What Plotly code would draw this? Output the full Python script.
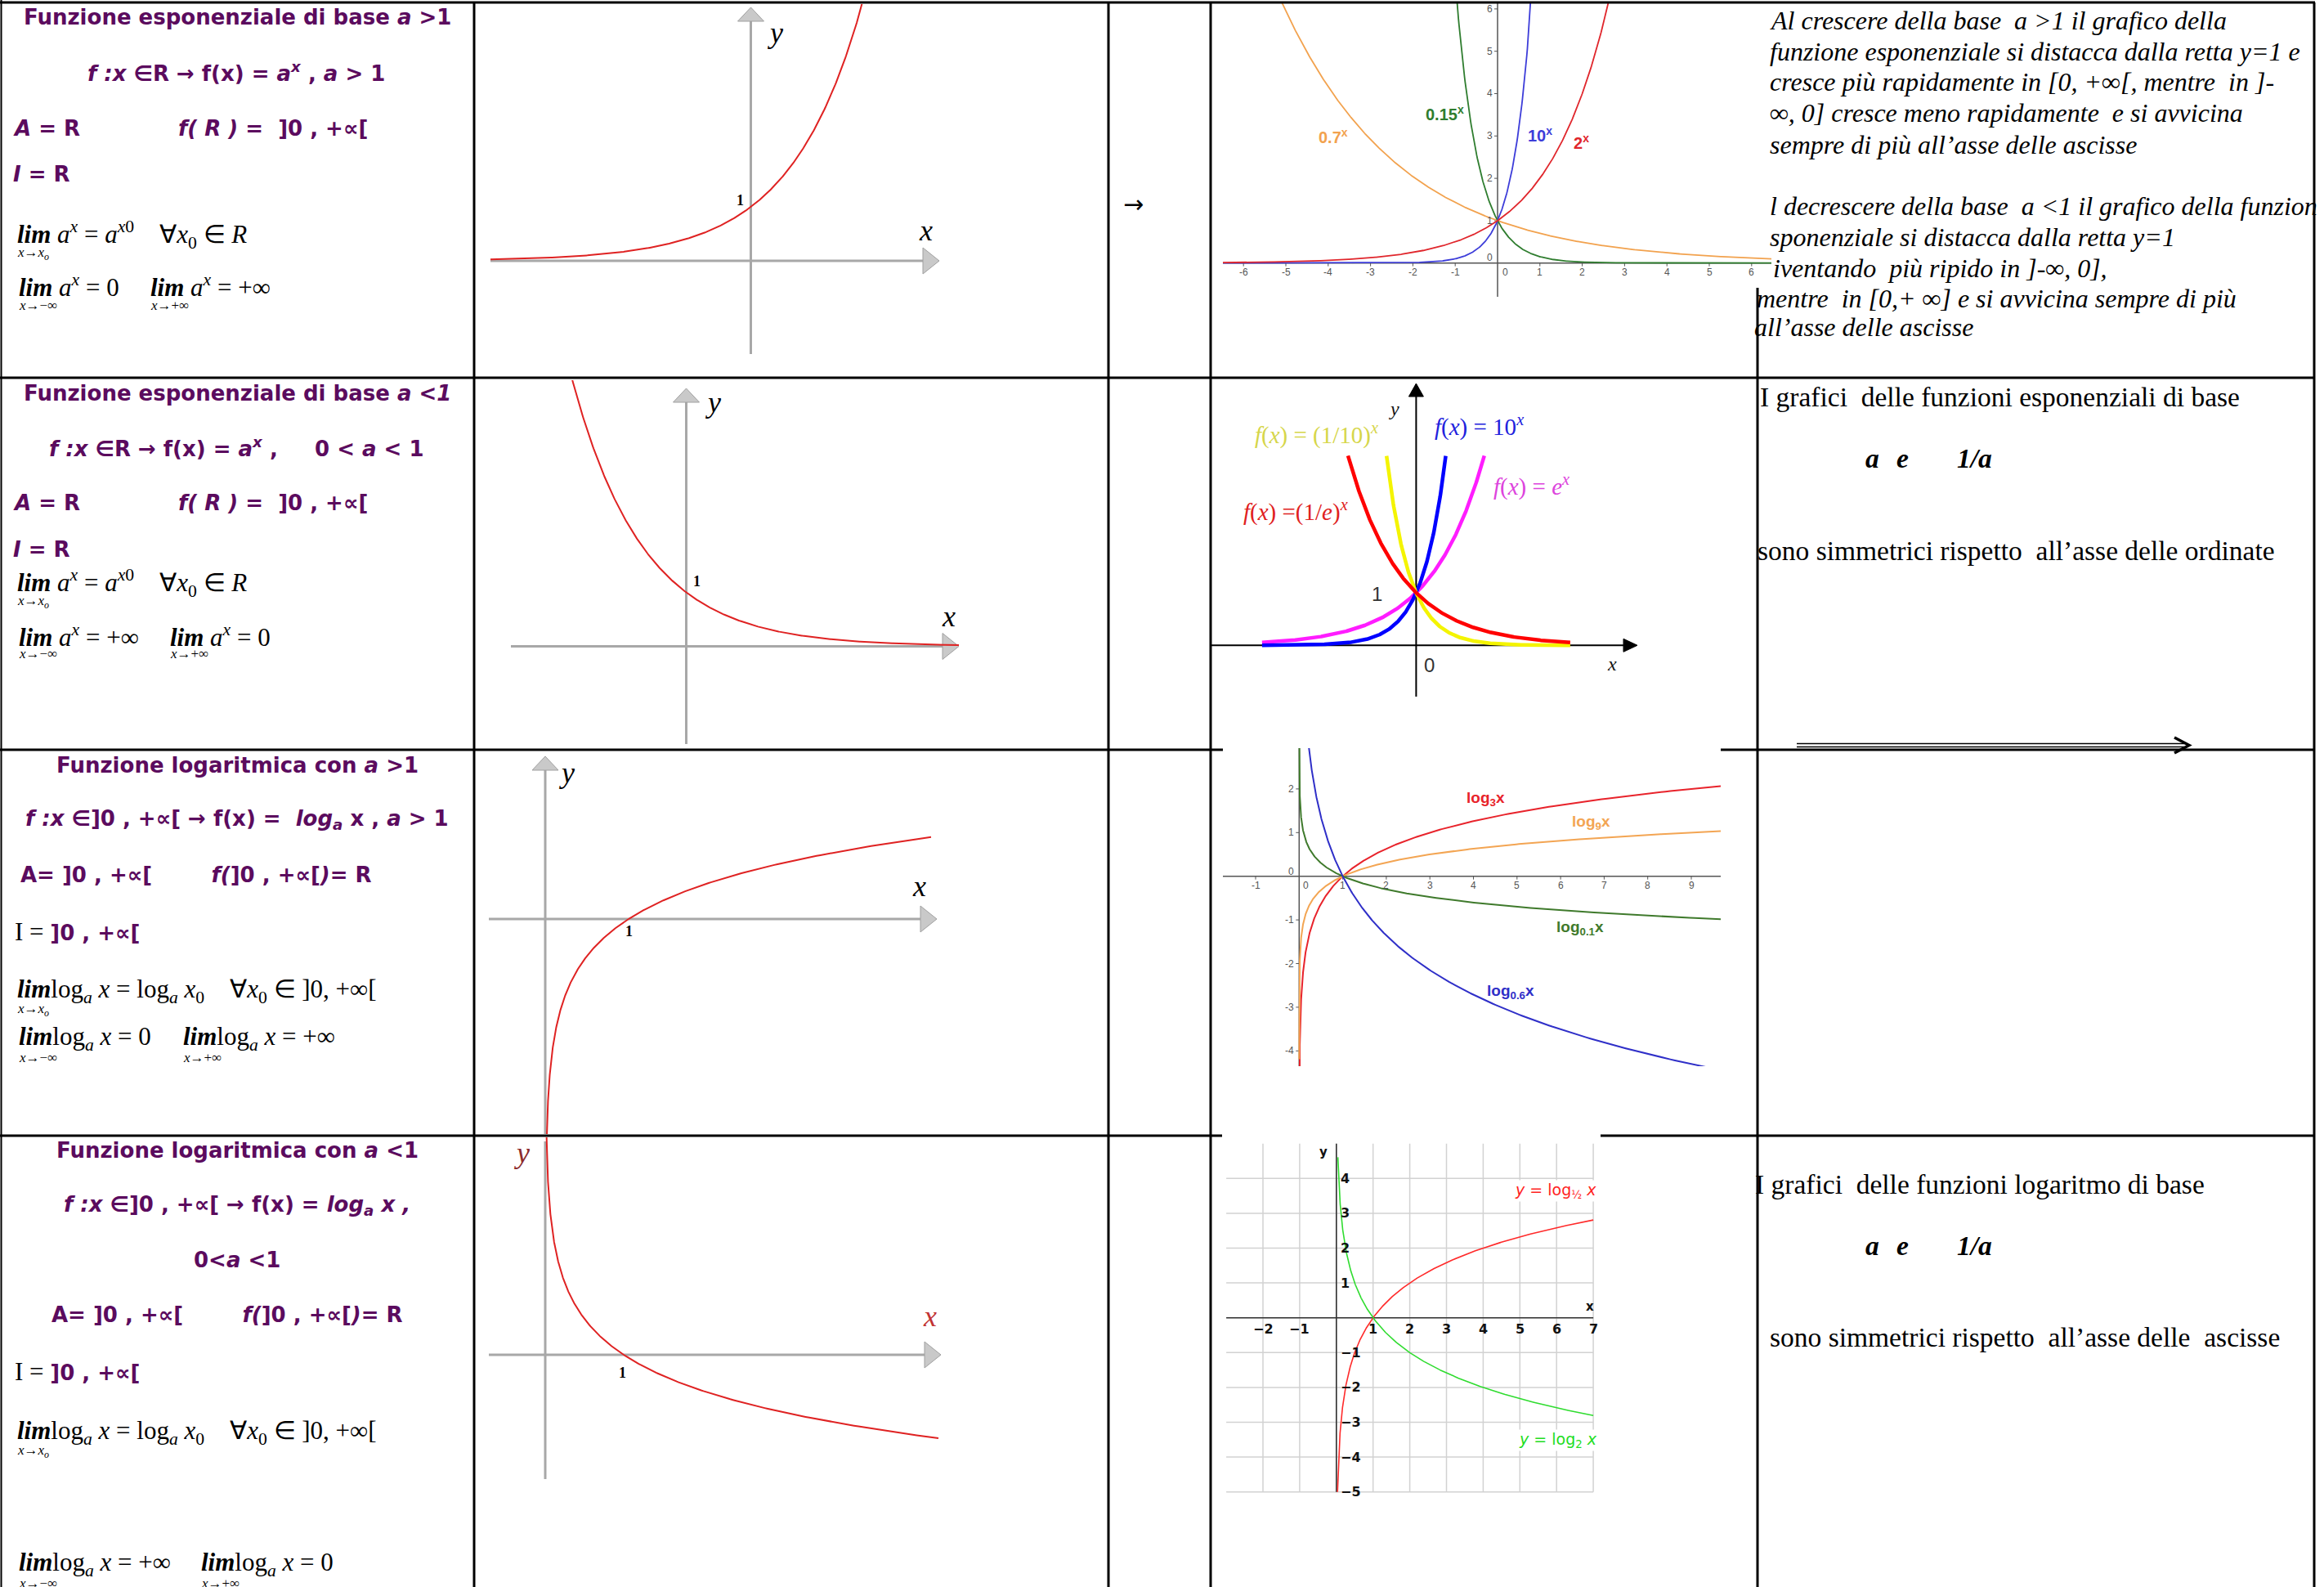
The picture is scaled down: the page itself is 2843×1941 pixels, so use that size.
import numpy as np
import plotly.graph_objects as go

W, H = 2843, 1941

# ---------------- data ----------------
# schematic curves of the second column
schema_exp_bases = [2.0, 0.5]            # a > 1 , 0 < a < 1
schema_log_bases = [np.e, 1 / np.e]      # a > 1 , 0 < a < 1

# family of exponentials (row 1)
exp_family_bases = [0.7, 0.15, 10.0, 2.0]
exp_family_names = ["0.7", "0.15", "10", "2"]
exp_family_colors = ["#f2a24e", "#2f7d2f", "#3d3dd9", "#e0262c"]
exp_family_xticks = [-6, -5, -4, -3, -2, -1, 1, 2, 3, 4, 5, 6]
exp_family_yticks = [1, 2, 3, 4, 5, 6]

# a^x and (1/a)^x (row 2)
sym_bases = [np.e, 10.0, 0.1, 1 / np.e]
sym_colors = ["#ff1cff", "#0000ff", "#f4f400", "#ff0000"]
sym_xlim = 2.9
sym_ytop = 3.62

# family of logarithms (row 3)
log_family_bases = [3.0, 9.0, 0.1, 0.6]
log_family_colors = ["#e8232b", "#f3a553", "#3f7a2c", "#2f2fc8"]
log_family_xticks = [-1, 1, 2, 3, 4, 5, 6, 7, 8, 9]
log_family_yticks = [-4, -3, -2, -1, 1, 2]

# log base 2 and base 1/2 on a grid (row 4)
grid_log_bases = [2.0, 0.5]
grid_log_colors = ["#ff2a2a", "#2fdc2f"]
grid_log_xstart = [1 / 32, 0.041]
grid_xticks = [-2, -1, 1, 2, 3, 4, 5, 6, 7]
grid_yticks = [-5, -4, -3, -2, -1, 1, 2, 3, 4]

# ---------------- helpers ----------------
fig = go.Figure()
shapes, annotations, axes = [], [], {}

PUR = "#5b0b5e"
SANS = "DejaVu Sans"
SERIF = "Liberation Serif"
NARROW = "Liberation Sans Narrow, Liberation Sans"
NB = "\u00a0"


def P(xp):
    return xp / W


def Q(yp):
    return 1 - yp / H


def panel(n, ox, oy, sx, sy, box):
    l, t, r, b = box
    s = "" if n == 1 else str(n)
    axes["xaxis" + s] = dict(domain=[P(l), P(r)], range=[(l - ox) / sx, (r - ox) / sx],
                             visible=False, fixedrange=True, anchor="y" + s)
    axes["yaxis" + s] = dict(domain=[Q(b), Q(t)], range=[(oy - b) / sy, (oy - t) / sy],
                             visible=False, fixedrange=True, anchor="x" + s)
    return dict(x="x" + s, y="y" + s, sx=sx, sy=sy, ox=ox, oy=oy)


def X(p, xp):
    return (xp - p["ox"]) / p["sx"]


def Y(p, yp):
    return (p["oy"] - yp) / p["sy"]


def dline(p, x0, y0, x1, y1, color, width, layer="below"):
    shapes.append(dict(type="line", xref=p["x"], yref=p["y"], x0=x0, y0=y0, x1=x1, y1=y1,
                       line=dict(color=color, width=width), layer=layer))


def dpath(p, pts, fill, edge, ew=1.0):
    path = "M " + " L ".join(f"{a:.5f},{b:.5f}" for a, b in pts) + " Z"
    shapes.append(dict(type="path", xref=p["x"], yref=p["y"], path=path,
                       fillcolor=fill, line=dict(color=edge, width=ew), layer="below"))


def head_up(p, tip_y, length, half, fill, edge):
    dpath(p, [(0, tip_y), (-half / p["sx"], tip_y - length / p["sy"]),
              (half / p["sx"], tip_y - length / p["sy"])], fill, edge)


def head_right(p, tip_x, length, half, fill, edge):
    dpath(p, [(tip_x, 0), (tip_x - length / p["sx"], half / p["sy"]),
              (tip_x - length / p["sx"], -half / p["sy"])], fill, edge)


def curve(p, x, y, color, width):
    fig.add_trace(go.Scatter(x=x, y=y, mode="lines", line=dict(color=color, width=width),
                             xaxis=p["x"], yaxis=p["y"], hoverinfo="skip", showlegend=False))


def label(xp, yp, s, size, color="#000", family=SERIF, xa="left", ya="middle", bg=None):
    a = dict(x=P(xp), y=Q(yp), xref="paper", yref="paper", text=s, showarrow=False,
             xanchor=xa, yanchor=ya, borderpad=0,
             font=dict(size=size, color=color, family=family))
    if bg:
        a["bgcolor"] = bg
    annotations.append(a)


def dlabel(p, x, y, s, size, color, family, xa="center", ya="middle"):
    annotations.append(dict(x=x, y=y, xref=p["x"], yref=p["y"], text=s, showarrow=False,
                            xanchor=xa, yanchor=ya, borderpad=0,
                            font=dict(size=size, color=color, family=family)))


def hline(y, x0, x1, w=3):
    shapes.append(dict(type="line", xref="paper", yref="paper", x0=P(x0), x1=P(x1),
                       y0=Q(y), y1=Q(y), line=dict(color="#000", width=w), layer="above"))


def vline(x, y0, y1, w=3):
    shapes.append(dict(type="line", xref="paper", yref="paper", x0=P(x), x1=P(x),
                       y0=Q(y0), y1=Q(y1), line=dict(color="#000", width=w), layer="above"))


GRAY_AX = "#a8a8a8"
HEAD_FILL = "#c9c9c9"
HEAD_EDGE = "#a0a0a0"
SCHEMA_RED = "#df2222"

# ---------------- column 2 : schematic graphs ----------------
# a^x, a > 1
pA = panel(1, 918.5, 319, 60.5, 66, (585, 5, 1352, 458))
dline(pA, X(pA, 600), 0, X(pA, 1135), 0, GRAY_AX, 3)
dline(pA, 0, Y(pA, 433), 0, Y(pA, 22), GRAY_AX, 3)
head_up(pA, Y(pA, 9), 17, 16, HEAD_FILL, HEAD_EDGE)
head_right(pA, X(pA, 1149), 20, 16, HEAD_FILL, HEAD_EDGE)
xa = np.linspace(X(pA, 600), 2.5, 500)
curve(pA, xa, schema_exp_bases[0] ** xa, SCHEMA_RED, 2)
label(900, 245, "<b>1</b>", 18)
label(948, 40, "<i>y</i>", 36, xa="center")
label(1132, 282, "<i>x</i>", 36, xa="center")

# a^x, 0 < a < 1
pC = panel(2, 839.5, 790.5, 60.5, 66, (585, 465, 1352, 915))
dline(pC, X(pC, 625), 0, X(pC, 1158), 0, GRAY_AX, 3)
dline(pC, 0, Y(pC, 910), 0, Y(pC, 488), GRAY_AX, 3)
head_up(pC, Y(pC, 475), 17, 16, HEAD_FILL, HEAD_EDGE)
head_right(pC, X(pC, 1173), 20, 16, HEAD_FILL, HEAD_EDGE)
xc = np.linspace(-2.5, X(pC, 1173), 500)
curve(pC, xc, schema_exp_bases[1] ** xc, SCHEMA_RED, 2)
label(852, 711, "<b>1</b>", 18, xa="center")
label(872, 492, "<i>y</i>", 36, xa="center")
label(1160, 754, "<i>x</i>", 36, xa="center")

# log_a x, a > 1
pE = panel(3, 667, 1124, 102, 65.4, (585, 919, 1352, 1387))
dline(pE, X(pE, 598), 0, X(pE, 1132), 0, GRAY_AX, 3)
dline(pE, 0, Y(pE, 1387), 0, Y(pE, 940), GRAY_AX, 3)
head_up(pE, Y(pE, 925), 17, 16, HEAD_FILL, HEAD_EDGE)
head_right(pE, X(pE, 1146), 20, 16, HEAD_FILL, HEAD_EDGE)
xe = np.geomspace(1e-3, X(pE, 1139), 600)
curve(pE, xe, np.log(xe) / np.log(schema_log_bases[0]), SCHEMA_RED, 2)
label(769, 1139, "<b>1</b>", 18, xa="center")
label(693, 945, "<i>y</i>", 36, xa="center")
label(1124, 1084, "<i>x</i>", 36, xa="center")

# log_a x, 0 < a < 1
pF = panel(4, 667, 1657, 96, 63.3, (585, 1391, 1352, 1939))
dline(pF, X(pF, 598), 0, X(pF, 1137), 0, GRAY_AX, 3)
dline(pF, 0, Y(pF, 1809), 0, Y(pF, 1396), GRAY_AX, 3)
head_right(pF, X(pF, 1151), 20, 16, HEAD_FILL, HEAD_EDGE)
xf = np.geomspace(1e-3, X(pF, 1148), 600)
curve(pF, xf, np.log(xf) / np.log(schema_log_bases[1]), SCHEMA_RED, 2)
label(761.5, 1679, "<b>1</b>", 18, xa="center")
label(638, 1410, "<i>y</i>", 36, color="#8c2b2b", xa="center")
label(1137, 1610, "<i>x</i>", 36, color="#c23434", xa="center")

# ---------------- column 4 : comparison graphs ----------------
# exponentials with different bases
pB = panel(5, 1832, 321.7, 51.8, 51.8, (1496, 4, 2167, 363))
AX_G = "#555555"
dline(pB, X(pB, 1496), 0, X(pB, 2167), 0, AX_G, 1.5)
dline(pB, 0, Y(pB, 363), 0, Y(pB, 4), AX_G, 1.5)
for k in exp_family_xticks:
    dline(pB, k, 0, k, -4 / pB["sy"], AX_G, 1)
    dlabel(pB, k, Y(pB, 333), str(k), 12, "#555", "Liberation Sans")
for k in exp_family_yticks:
    dline(pB, -4 / pB["sx"], k, 0, k, AX_G, 1)
    dlabel(pB, X(pB, 1827), k, str(k), 12, "#555", "Liberation Sans", xa="right")
dlabel(pB, X(pB, 1841), Y(pB, 333), "0", 12, "#555", "Liberation Sans")
dlabel(pB, X(pB, 1827), Y(pB, 315), "0", 12, "#555", "Liberation Sans", xa="right")
xb = np.linspace(X(pB, 1496), X(pB, 2167), 900)
for b, c in zip(exp_family_bases, exp_family_colors):
    curve(pB, xb, b ** xb, c, 1.8)
for name, c, (lx, ly) in zip(exp_family_names, exp_family_colors,
                             [(1612, 167), (1743, 138), (1868, 165), (1924, 173)]):
    label(lx, ly, f"<b>{name}<sup>x</sup></b>", 20, c, NARROW)

# a^x and (1/a)^x
pD = panel(6, 1732.4, 789.3, 65, 64.3, (1482, 464, 2012, 915))
dline(pD, X(pD, 1482), 0, X(pD, 1990), 0, "#000", 2)
dline(pD, 0, Y(pD, 852), 0, Y(pD, 482), "#000", 2)
head_up(pD, Y(pD, 469), 16, 9, "#000", "#000")
head_right(pD, X(pD, 2003), 17, 8, "#000", "#000")
xd = np.linspace(-sym_xlim, sym_xlim, 600)
for b, c in zip(sym_bases, sym_colors):
    yd = b ** xd
    curve(pD, xd, np.where(yd > sym_ytop, np.nan, yd), c, 4.5)
DS = 29
label(1534, 530, "<i>f</i>(<i>x</i>) = (1/10)<sup><i>x</i></sup>", DS, "#d6d64a")
label(1754, 521, "<i>f</i>(<i>x</i>) = 10<sup><i>x</i></sup>", DS, "#2222dd")
label(1826, 593, "<i>f</i>(<i>x</i>) = <i>e</i><sup><i>x</i></sup>", DS, "#dd44dd")
label(1520, 625, "<i>f</i>(<i>x</i>) =(1/<i>e</i>)<sup><i>x</i></sup>", DS, "#e02020")
label(1684, 727, "1", 24, "#333", "Liberation Sans", xa="center")
label(1748, 813, "0", 24, "#333", "Liberation Sans", xa="center")
label(1706, 500, "<i>y</i>", 24, "#111", xa="center")
label(1972, 812, "<i>x</i>", 24, "#111", xa="center")

# logarithms with different bases
pG = panel(7, 1589.3, 1071.7, 53.3, 53.4, (1496, 915, 2105, 1304))
dline(pG, X(pG, 1496), 0, X(pG, 2105), 0, AX_G, 1.5)
dline(pG, 0, Y(pG, 1304), 0, Y(pG, 915), AX_G, 1.5)
for k in log_family_xticks:
    dline(pG, k, 0, k, -4 / pG["sy"], AX_G, 1)
    dlabel(pG, k, Y(pG, 1083), str(k), 12, "#555", "Liberation Sans")
for k in log_family_yticks:
    dline(pG, -4 / pG["sx"], k, 0, k, AX_G, 1)
    dlabel(pG, X(pG, 1584), k, str(k), 12, "#555", "Liberation Sans", xa="right")
dlabel(pG, X(pG, 1597), Y(pG, 1083), "0", 12, "#555", "Liberation Sans")
dlabel(pG, X(pG, 1584), Y(pG, 1066), "0", 12, "#555", "Liberation Sans", xa="right")
xg = np.geomspace(1e-4, X(pG, 2105), 900)
for b, c in zip(log_family_bases, log_family_colors):
    curve(pG, xg, np.log(xg) / np.log(b), c, 2)
label(1793, 977, "<b>log<sub>3</sub>x</b>", 19, log_family_colors[0], NARROW)
label(1922, 1006, "<b>log<sub>9</sub>x</b>", 19, log_family_colors[1], NARROW)
label(1903, 1135, "<b>log<sub>0.1</sub>x</b>", 19, log_family_colors[2], NARROW)
label(1818, 1213, "<b>log<sub>0.6</sub>x</b>", 19, log_family_colors[3], NARROW)

# log base 2 and base 1/2 on a grid
pH = panel(8, 1634.8, 1611.7, 44.9, 42.6, (1495, 1391, 1958, 1838))
GRID = "#d2d2d2"
for k in range(-5, 5):
    dline(pH, -3, k, 7, k, GRID, 1.5)
for k in range(-2, 8):
    dline(pH, k, -5, k, 5, GRID, 1.5)
dline(pH, -3, 0, 7, 0, "#333", 1.6)
dline(pH, 0, -5, 0, 5, "#333", 1.6)
for k in grid_xticks:
    dlabel(pH, k, Y(pH, 1625), f"<b>{str(k).replace('-', '−')}</b>", 16, "#111", SANS)
for k in grid_yticks:
    dlabel(pH, X(pH, 1639), k, f"<b>{str(k).replace('-', '−')}</b>", 16, "#111", SANS, xa="left")
label(1945, 1598, "<b>x</b>", 15, "#111", SANS, xa="center")
label(1619, 1409, "<b>y</b>", 15, "#111", SANS, xa="center")
for b, c, x0 in zip(grid_log_bases, grid_log_colors, grid_log_xstart):
    xh = np.geomspace(x0, 7, 600)
    curve(pH, xh, np.log(xh) / np.log(b), c, 1.6)
label(1852, 1456, "<i>y</i> = log<sub>½</sub> <i>x</i>", 19, "#ff1f1f", SANS, bg="white")
label(1857, 1761, "<i>y</i> = log<sub>2</sub> <i>x</i>", 19, "#22dd22", SANS, bg="white")

# ---------------- column 1 : definitions ----------------
TS = 26   # purple headings
MS = 31   # limits
SS = 17   # limit subscripts
LIM = "<b><i>lim</i></b>"


def math(xp, yp, main, sub):
    label(xp, yp, main, MS)
    label(xp, yp + 23, sub, SS)


# row 1
label(290, 21, "<b>Funzione esponenziale di base <i>a</i> &gt;1</b>", TS, PUR, SANS, xa="center")
label(289, 88, "<b><i>f :x</i> ∈R → f(x) = <i>a<sup>x</sup></i> , <i>a</i> &gt; 1</b>", TS, PUR, SANS, xa="center")
label(15, 157, "<b><i>A</i> = R</b>", TS, PUR, SANS)
label(217, 157, f"<b><i>f( R )</i> ={NB} ]0 , +∝[</b>", TS, PUR, SANS)
label(15, 213, "<b><i>I</i> = R</b>", TS, PUR, SANS)
math(20, 287, f"{LIM} <i>a<sup>x</sup></i> = <i>a</i><sup><i>x</i>0</sup>{NB*4}∀<i>x</i><sub>0</sub> ∈ <i>R</i>",
     "<i>x</i>→<i>x<sub>o</sub></i>")
math(22, 350, f"{LIM} <i>a<sup>x</sup></i> = 0", "<i>x</i>→−∞")
math(183, 350, f"{LIM} <i>a<sup>x</sup></i> = +∞", "<i>x</i>→+∞")

# row 2
label(290, 481, "<b>Funzione esponenziale di base <i>a &lt;1</i></b>", TS, PUR, SANS, xa="center")
label(289, 547, f"<b><i>f :x</i> ∈R → f(x) = <i>a<sup>x</sup></i> ,{NB*5}0 &lt; <i>a</i> &lt; 1</b>", TS, PUR, SANS, xa="center")
label(15, 615, "<b><i>A</i> = R</b>", TS, PUR, SANS)
label(217, 615, f"<b><i>f( R )</i> ={NB} ]0 , +∝[</b>", TS, PUR, SANS)
label(15, 672, "<b><i>I</i> = R</b>", TS, PUR, SANS)
math(20, 713, f"{LIM} <i>a<sup>x</sup></i> = <i>a</i><sup><i>x</i>0</sup>{NB*4}∀<i>x</i><sub>0</sub> ∈ <i>R</i>",
     "<i>x</i>→<i>x<sub>o</sub></i>")
math(22, 777, f"{LIM} <i>a<sup>x</sup></i> = +∞", "<i>x</i>→−∞")
math(207, 777, f"{LIM} <i>a<sup>x</sup></i> = 0", "<i>x</i>→+∞")

# row 3
LOGX = "log<sub><i>a</i></sub> <i>x</i>"
label(290, 936, "<b>Funzione logaritmica con <i>a</i> &gt;1</b>", TS, PUR, SANS, xa="center")
label(290, 1002, f"<b><i>f :x</i> ∈]0 , +∝[ → f(x) ={NB} <i>log<sub>a</sub></i> x , <i>a</i> &gt; 1</b>", TS, PUR, SANS, xa="center")
label(24, 1070, f"<b>A= ]0 , +∝[{NB*8}<i>f(</i>]0 , +∝[<i>)</i>= R</b>", TS, PUR, SANS)
label(17, 1139, '<span style="font-family:Liberation Serif;color:#000000;font-size:31px">I = </span><b>]0 , +∝[</b>', TS, PUR, SANS)
math(20, 1212, f"{LIM}{LOGX} = {LOGX}<sub>0</sub>{NB*4}∀<i>x</i><sub>0</sub> ∈ ]0, +∞[",
     "<i>x</i>→<i>x<sub>o</sub></i>")
math(22, 1270, f"{LIM}{LOGX} = 0", "<i>x</i>→−∞")
math(223, 1270, f"{LIM}{LOGX} = +∞", "<i>x</i>→+∞")

# row 4
label(290, 1407, "<b>Funzione logaritmica con <i>a</i> &lt;1</b>", TS, PUR, SANS, xa="center")
label(290, 1474, "<b><i>f :x</i> ∈]0 , +∝[ → f(x) = <i>log<sub>a</sub> x ,</i></b>", TS, PUR, SANS, xa="center")
label(290, 1541, "<b>0&lt;<i>a</i> &lt;1</b>", TS, PUR, SANS, xa="center")
label(62, 1608, f"<b>A= ]0 , +∝[{NB*8}<i>f(</i>]0 , +∝[<i>)</i>= R</b>", TS, PUR, SANS)
label(17, 1677, '<span style="font-family:Liberation Serif;color:#000000;font-size:31px">I = </span><b>]0 , +∝[</b>', TS, PUR, SANS)
math(20, 1752, f"{LIM}{LOGX} = {LOGX}<sub>0</sub>{NB*4}∀<i>x</i><sub>0</sub> ∈ ]0, +∞[",
     "<i>x</i>→<i>x<sub>o</sub></i>")
math(22, 1913, f"{LIM}{LOGX} = +∞", "<i>x</i>→−∞")
math(245, 1913, f"{LIM}{LOGX} = 0", "<i>x</i>→+∞")

# ---------------- column 5 : remarks ----------------
RS = 32
remarks_1 = [
    (2164, 25, f"Al crescere della base {NB}a &gt;1 il grafico della"),
    (2164, 63, "funzione esponenziale si distacca dalla retta y=1 e"),
    (2164, 100, f"cresce più rapidamente in [0, +∞[, mentre {NB}in ]-"),
    (2164, 138, f"∞, 0] cresce meno rapidamente {NB}e si avvicina"),
    (2164, 177, "sempre di più all’asse delle ascisse"),
    (2164, 252, f"l decrescere della base {NB}a &lt;1 il grafico della funzion"),
    (2164, 290, "sponenziale si distacca dalla retta y=1"),
    (2168, 328, f"iventando {NB}più ripido in ]-∞, 0],"),
    (2148, 365, f"mentre {NB}in [0,+ ∞] e si avvicina sempre di più"),
    (2145, 400, "all’asse delle ascisse"),
]
for lx, ly, s in remarks_1:
    label(lx, ly, f"<i>{s}</i>", RS)

CS = 33.5
label(2152, 485, f"I grafici {NB}delle funzioni esponenziali di base", CS)
label(2281, 560, "<b><i>a</i></b>", CS)
label(2319, 560, "<b><i>e</i></b>", CS)
label(2393, 560, "<b><i>1/a</i></b>", CS)
label(2149, 673, f"sono simmetrici rispetto {NB}all’asse delle ordinate", CS)

label(2146, 1448, f"I grafici {NB}delle funzioni logaritmo di base", CS)
label(2281, 1523, "<b><i>a</i></b>", CS)
label(2319, 1523, "<b><i>e</i></b>", CS)
label(2393, 1523, "<b><i>1/a</i></b>", CS)
label(2164, 1635, f"sono simmetrici rispetto {NB}all’asse delle {NB}ascisse", CS)

# long double arrow under the remark of row 2
for yy in (909.5, 913.5):
    shapes.append(dict(type="line", xref="paper", yref="paper", x0=P(2198), x1=P(2672),
                       y0=Q(yy), y1=Q(yy), line=dict(color="#000", width=1.6), layer="above"))
shapes.append(dict(type="path", xref="paper", yref="paper",
                   path=f"M {P(2660)},{Q(902)} L {P(2678)},{Q(911.5)} L {P(2660)},{Q(921)}",
                   line=dict(color="#000", width=3.5), layer="above"))

# small arrow in column 3
label(1386, 250, "→", 30, "#000", SANS, xa="center")

# ---------------- table grid ----------------
hline(3, 0, 2832)
hline(462, 0, 2832)
hline(917, 0, 1496)
hline(917, 2105, 2832)
hline(1389, 0, 1495)
hline(1389, 1958, 2832)
vline(1.5, 0, H, 2)
vline(580, 3, H)
vline(1356, 3, H)
vline(1481, 3, H)
vline(2150, 352, H)
vline(2831, 3, H)

fig.update_layout(width=W, height=H, margin=dict(l=0, r=0, t=0, b=0),
                  paper_bgcolor="white", plot_bgcolor="rgba(0,0,0,0)",
                  showlegend=False, shapes=shapes, annotations=annotations, **axes)
fig.write_html("out.html")
